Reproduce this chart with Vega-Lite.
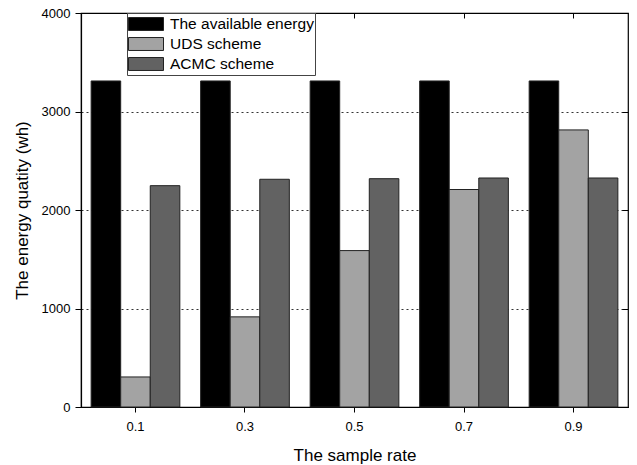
{
  "$schema": "https://vega.github.io/schema/vega-lite/v6.json",
  "width": 547,
  "height": 394,
  "autosize": {"type": "none"},
  "padding": {"left": 81, "top": 13, "right": 9, "bottom": 58},
  "background": "white",
  "config": {
    "font": "Liberation Sans",
    "view": {"stroke": "black", "strokeWidth": 1.2}
  },
  "data": {
    "values": [
      {"rate": "0.1", "scheme": "The available energy", "value": 3310},
      {"rate": "0.1", "scheme": "UDS scheme", "value": 305},
      {"rate": "0.1", "scheme": "ACMC scheme", "value": 2247},
      {"rate": "0.3", "scheme": "The available energy", "value": 3310},
      {"rate": "0.3", "scheme": "UDS scheme", "value": 915},
      {"rate": "0.3", "scheme": "ACMC scheme", "value": 2312},
      {"rate": "0.5", "scheme": "The available energy", "value": 3310},
      {"rate": "0.5", "scheme": "UDS scheme", "value": 1588},
      {"rate": "0.5", "scheme": "ACMC scheme", "value": 2318},
      {"rate": "0.7", "scheme": "The available energy", "value": 3310},
      {"rate": "0.7", "scheme": "UDS scheme", "value": 2208},
      {"rate": "0.7", "scheme": "ACMC scheme", "value": 2325},
      {"rate": "0.9", "scheme": "The available energy", "value": 3310},
      {"rate": "0.9", "scheme": "UDS scheme", "value": 2813},
      {"rate": "0.9", "scheme": "ACMC scheme", "value": 2325}
    ]
  },
  "layer": [
    {
      "mark": {"type": "bar", "stroke": "#222222", "strokeWidth": 1},
      "encoding": {
        "x": {
          "field": "rate", "type": "nominal",
          "scale": {"paddingInner": 0.19, "paddingOuter": 0.0925},
          "axis": {
            "title": "The sample rate", "titleFontSize": 17, "titleFontWeight": "normal",
            "titleColor": "black", "titlePadding": 14,
            "labelAngle": 0, "labelFontSize": 13, "labelColor": "black", "labelPadding": 8,
            "tickSize": 5, "tickColor": "black", "domainColor": "black", "domainWidth": 1.2
          }
        },
        "xOffset": {
          "field": "scheme", "type": "nominal",
          "sort": ["The available energy", "UDS scheme", "ACMC scheme"],
          "scale": {"paddingInner": 0, "paddingOuter": 0}
        },
        "y": {
          "field": "value", "type": "quantitative",
          "scale": {"domain": [0, 4000], "nice": false},
          "axis": {
            "title": "The energy quatity (wh)", "titleFontSize": 17, "titleFontWeight": "normal",
            "titleColor": "black", "titlePadding": 10,
            "values": [0, 1000, 2000, 3000, 4000], "format": "d",
            "labelFontSize": 13, "labelColor": "black", "labelPadding": 5,
            "tickSize": 6, "tickColor": "black", "domainColor": "black", "domainWidth": 1.2,
            "grid": true, "gridColor": "#333333", "gridDash": [2, 3], "gridWidth": 1,
            "gridOpacity": {"condition": {"test": "datum.value === 0 || datum.value === 4000", "value": 0}, "value": 1}
          }
        },
        "color": {
          "field": "scheme", "type": "nominal",
          "scale": {
            "domain": ["The available energy", "UDS scheme", "ACMC scheme"],
            "range": ["#000000", "#a3a3a3", "#626262"]
          },
          "legend": {
            "title": null, "orient": "none", "legendX": 46, "legendY": 0,
            "direction": "vertical",
            "strokeColor": "#444444", "fillColor": "white", "padding": 1,
            "symbolType": "M-1,-0.37H1V0.37H-1Z", "symbolSize": 1225,
            "symbolStrokeColor": "#222222", "symbolStrokeWidth": 1,
            "clipHeight": 20, "rowPadding": 0,
            "labelFontSize": 15.5, "labelColor": "black", "labelOffset": 6, "labelLimit": 300
          }
        }
      }
    },
    {
      "mark": {"type": "bar", "opacity": 0},
      "encoding": {
        "x": {
          "field": "rate", "type": "nominal",
          "axis": {"orient": "top", "title": null, "labels": false, "domain": false, "tickSize": -5, "tickColor": "black"}
        },
        "xOffset": {"field": "scheme", "type": "nominal", "sort": ["The available energy", "UDS scheme", "ACMC scheme"]},
        "y": {
          "field": "value", "type": "quantitative",
          "axis": {"orient": "right", "title": null, "labels": false, "domain": false, "grid": false,
                   "values": [0, 1000, 2000, 3000, 4000], "tickSize": -6, "tickColor": "black"}
        }
      }
    }
  ],
  "resolve": {"axis": {"x": "independent", "y": "independent"}}
}
